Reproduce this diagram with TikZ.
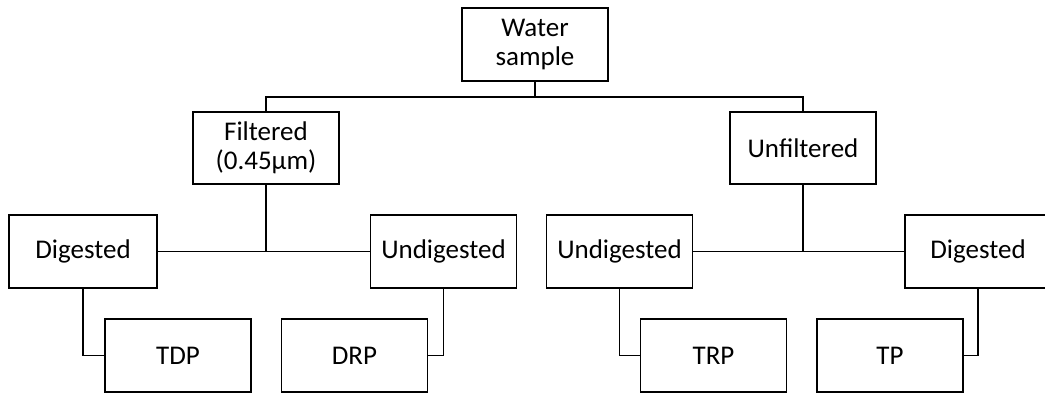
\documentclass[tikz,border=0pt]{standalone}
\usepackage{fontspec}
\setmainfont{Carlito}
\begin{document}
\begin{tikzpicture}[x=1pt,y=-1pt,
  box/.style={draw,line width=1.8pt,minimum width=146pt,minimum height=73pt,
    inner sep=0pt,align=center,font=\fontsize{27}{29.5}\selectfont},
  conn/.style={line width=1.8pt}]
\useasboundingbox (0,0) rectangle (1045,393);
\node[box] (water) at (535,44.5) {Water\\sample};
\node[box,minimum height=72pt] (filt) at (266,148) {Filtered\\(0.45µm)};
\node[box,minimum height=72pt] (unfilt) at (803,148) {Unfiltered};
\node[box,minimum width=148pt] (dig1) at (83,251.5) {Digested};
\node[box] (und1) at (443.5,251.5) {Undigested};
\node[box] (und2) at (619.5,251.5) {Undigested};
\node[box] (dig2) at (978,251.5) {Digested};
\node[box] (tdp) at (178,355.5) {TDP};
\node[box] (drp) at (354.5,355.5) {DRP};
\node[box] (trp) at (713.5,355.5) {TRP};
\node[box] (tp) at (890,355.5) {TP};
\coordinate (j0) at (535,97);
\draw[conn] (water.south) -- (j0);
\draw[conn] (filt.north) |- (j0) -| (unfilt.north);
\draw[conn] (dig1.east) -- (und1.west);
\draw[conn] (filt.south) -- (filt.south |- dig1.east);
\draw[conn] (und2.east) -- (dig2.west);
\draw[conn] (unfilt.south) -- (unfilt.south |- und2.east);
\draw[conn] (dig1.south) |- (tdp.west);
\draw[conn] (und1.south) |- (drp.east);
\draw[conn] (und2.south) |- (trp.west);
\draw[conn] (dig2.south) |- (tp.east);
\end{tikzpicture}
\end{document}
